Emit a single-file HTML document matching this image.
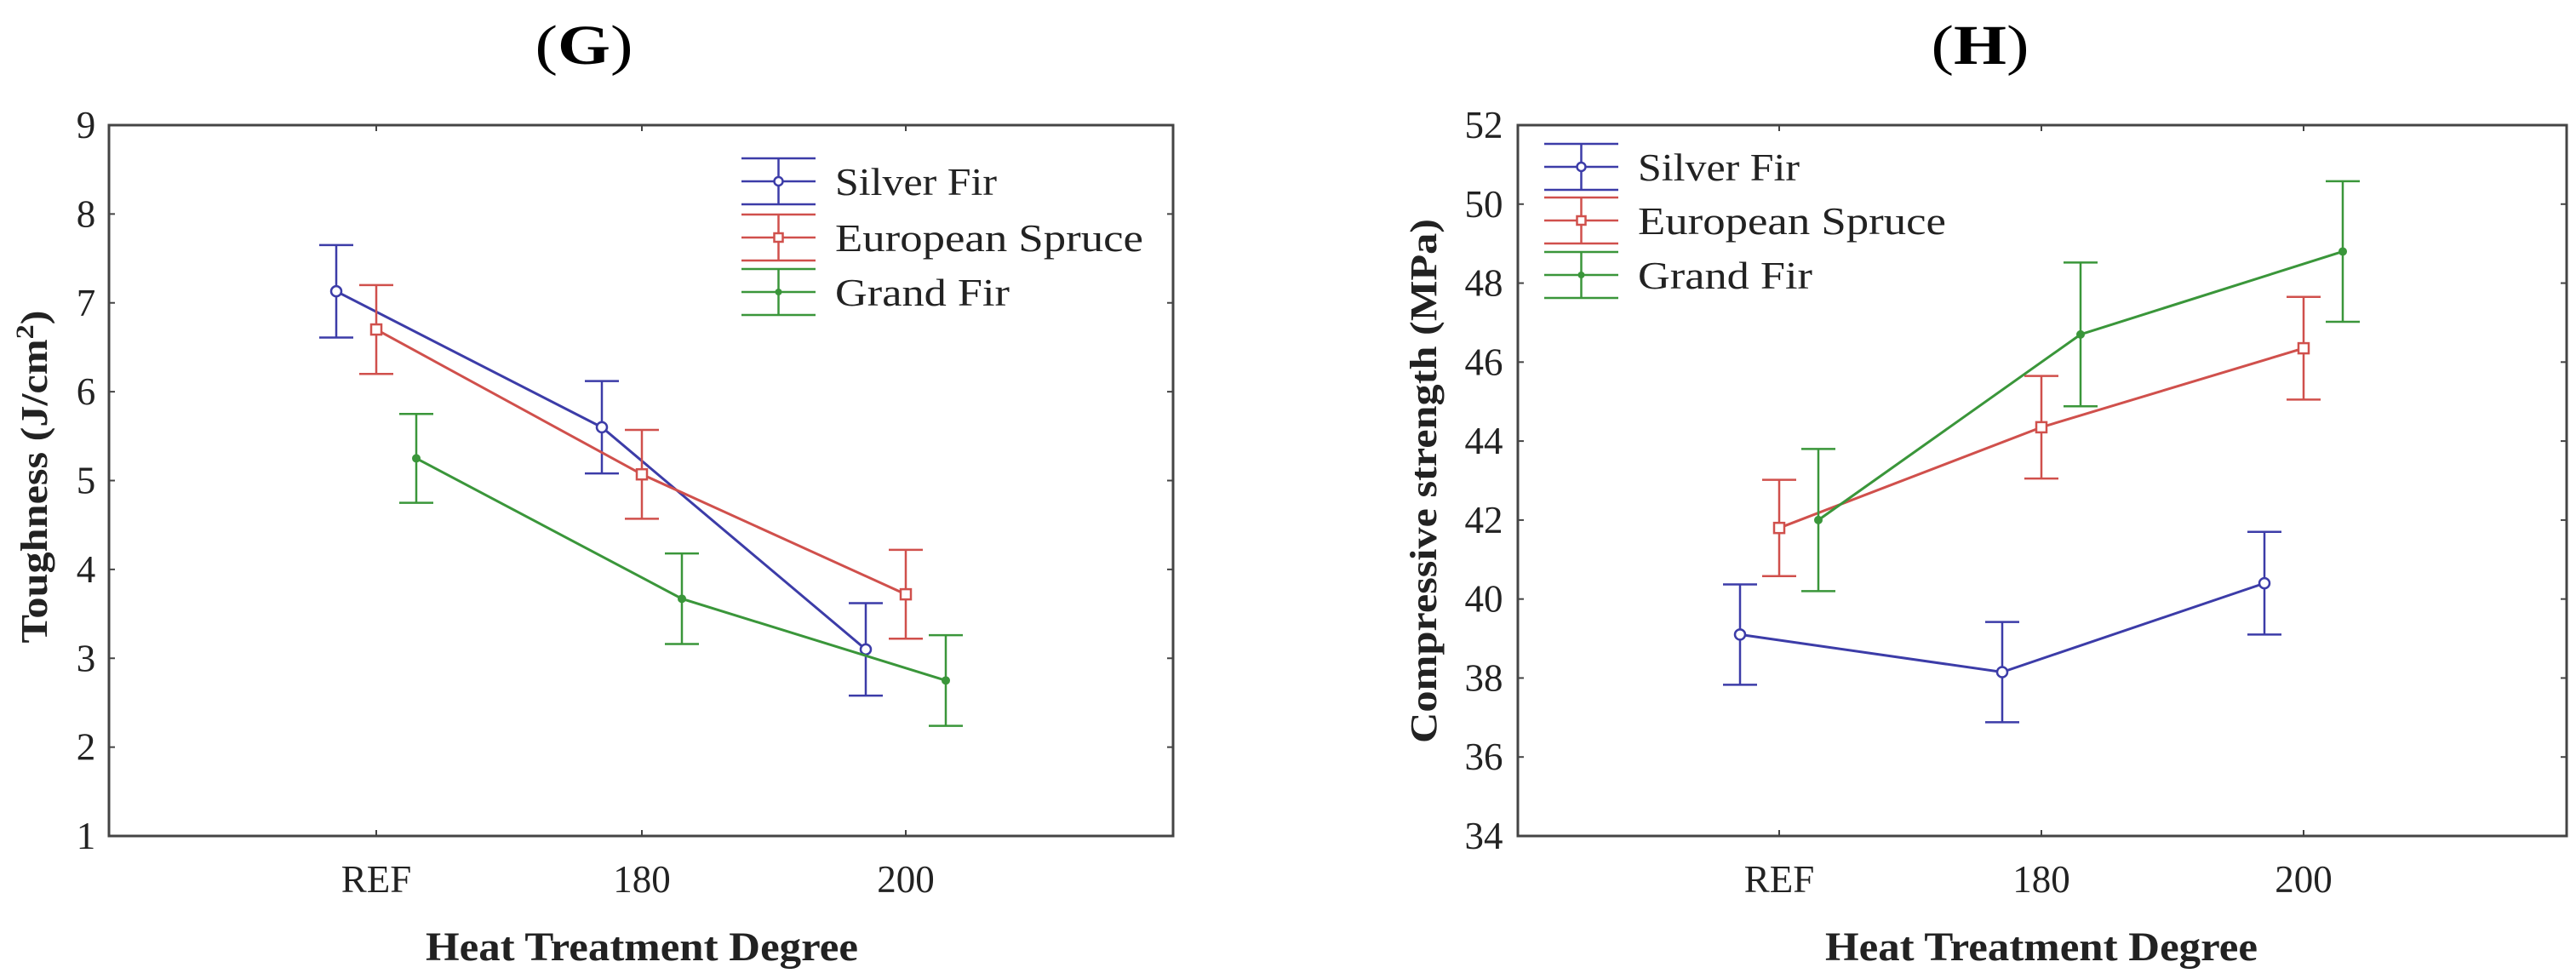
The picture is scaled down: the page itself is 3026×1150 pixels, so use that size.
<!DOCTYPE html>
<html><head><meta charset="utf-8"><style>
html,body{margin:0;padding:0;background:#fff;overflow:hidden;}
svg{display:block;font-family:"Liberation Serif",serif;}
</style></head><body>
<svg id="fig" width="3026" height="1150" viewBox="0 0 3026 1150" xmlns="http://www.w3.org/2000/svg"></svg>
<script>
const categories = ["REF","180","200"];
const seriesNames = ["Silver Fir","European Spruce","Grand Fir"];
// Chart G: toughness
const gSilver = [7.13,5.6,3.1];
const gSilverErr = [0.52,0.52,0.52];
const gSpruce = [6.7,5.07,3.72];
const gSpruceErr = [0.5,0.5,0.5];
const gGrand = [5.25,3.67,2.75];
const gGrandErr = [0.5,0.51,0.51];
const gTicks = [1,2,3,4,5,6,7,8,9];
// Chart H: compressive strength
const hSilver = [39.1,38.15,40.4];
const hSilverErr = [1.27,1.27,1.3];
const hSpruce = [41.8,44.35,46.35];
const hSpruceErr = [1.22,1.3,1.3];
const hGrand = [42.0,46.7,48.8];
const hGrandErr = [1.8,1.82,1.78];
const hTicks = [34,36,38,40,42,44,46,48,50,52];

const NS="http://www.w3.org/2000/svg";
const svg=document.getElementById('fig');
function mk(tag,attrs,parent){const e=document.createElementNS(NS,tag);for(const k in attrs)e.setAttribute(k,attrs[k]);(parent||svg).appendChild(e);return e;}
const colors=["#3c3ca8","#d0504c","#3a963a"];
const legendWidths=[190,362,205];

function chart(cfg){
  const g=mk('g',{});
  
  
  const {x0,x1,y0,y1,ymin,ymax,catX,off}=cfg;
  const ys=v=>y1-(v-ymin)/(ymax-ymin)*(y1-y0);
  const xs=(i,s)=>catX[i]+(s-1)*off;
  const frame=mk('rect',{x:x0,y:y0,width:x1-x0,height:y1-y0,fill:'none',stroke:'#444',"stroke-width":3},g);
  
  
  cfg.ticks.forEach(t=>{
    const y=ys(t);
    mk('line',{x1:x0,x2:x0+7,y1:y,y2:y,stroke:'#444',"stroke-width":2},g);
    mk('line',{x1:x1,x2:x1-7,y1:y,y2:y,stroke:'#444',"stroke-width":2},g);
    const tx=mk('text',{x:cfg.tickX,y:y+15,"font-size":45,"text-anchor":"middle",fill:'#222'},g);
    tx.textContent=t;
    
    
  });
  categories.forEach((c,i)=>{
    mk('line',{x1:catX[i],x2:catX[i],y1:y1,y2:y1-7,stroke:'#444',"stroke-width":2},g);
    mk('line',{x1:catX[i],x2:catX[i],y1:y0,y2:y0+7,stroke:'#444',"stroke-width":2},g);
    const tx=mk('text',{x:catX[i],y:1048,"font-size":45,"text-anchor":"middle",fill:'#222'},g);
    tx.textContent=c;
    
    
  });
  const xt=mk('text',{x:catX[1],y:1128,"font-size":48,"font-weight":"bold","text-anchor":"middle",fill:'#222',textLength:508,lengthAdjust:"spacingAndGlyphs"},g);
  xt.textContent="Heat Treatment Degree";
  
  
  const yt=mk('text',{x:0,y:0,"font-size":44,"font-weight":"bold","text-anchor":"middle",fill:'#222',textLength:cfg.ytLen,lengthAdjust:"spacingAndGlyphs",transform:`translate(${cfg.ytX},${cfg.ytY}) rotate(-90)`},g);
  yt.innerHTML=cfg.ytitle;
  
  
  const tt=mk('text',{x:cfg.titleX,y:75,"font-size":66,"text-anchor":"middle",fill:'#000',textLength:115,lengthAdjust:"spacingAndGlyphs"},g);
  tt.innerHTML='(<tspan font-weight="bold">'+cfg.letter+'</tspan>)';
  
  
  cfg.series.forEach((s,si)=>{
    const col=colors[si];
    const pts=s.vals.map((v,i)=>xs(i,si)+','+ys(v)).join(' ');
    const pl=mk('polyline',{points:pts,fill:'none',stroke:col,"stroke-width":3},g);
    
    
    s.vals.forEach((v,i)=>{
      const x=xs(i,si),e=s.err[i];
      mk('line',{x1:x,x2:x,y1:ys(v+e),y2:ys(v-e),stroke:col,"stroke-width":2.5},g);
      mk('line',{x1:x-20,x2:x+20,y1:ys(v+e),y2:ys(v+e),stroke:col,"stroke-width":2.5},g);
      mk('line',{x1:x-20,x2:x+20,y1:ys(v-e),y2:ys(v-e),stroke:col,"stroke-width":2.5},g);
      let m;
      if(si==0)m=mk('circle',{cx:x,cy:ys(v),r:6,fill:'#fff',stroke:col,"stroke-width":2.5},g);
      else if(si==1)m=mk('rect',{x:x-6,y:ys(v)-6,width:12,height:12,fill:'#fff',stroke:col,"stroke-width":2.5},g);
      else m=mk('circle',{cx:x,cy:ys(v),r:5,fill:col},g);
      
      
    });
  });
  const lg=mk('g',{},g);
  
  
  seriesNames.forEach((n,si)=>{
    const col=colors[si],L=cfg.leg,cy=L.y[si],lx=L.x,lw=87;
    mk('line',{x1:lx,x2:lx+lw,y1:cy,y2:cy,stroke:col,"stroke-width":2.5},lg);
    mk('line',{x1:lx,x2:lx+lw,y1:cy-27,y2:cy-27,stroke:col,"stroke-width":2.5},lg);
    mk('line',{x1:lx,x2:lx+lw,y1:cy+27,y2:cy+27,stroke:col,"stroke-width":2.5},lg);
    mk('line',{x1:lx+lw/2,x2:lx+lw/2,y1:cy-27,y2:cy+27,stroke:col,"stroke-width":2.5},lg);
    if(si==0)mk('circle',{cx:lx+lw/2,cy:cy,r:5,fill:'#fff',stroke:col,"stroke-width":2.5},lg);
    else if(si==1)mk('rect',{x:lx+lw/2-5,y:cy-5,width:10,height:10,fill:'#fff',stroke:col,"stroke-width":2.5},lg);
    else mk('circle',{cx:lx+lw/2,cy:cy,r:4,fill:col},lg);
    const t=mk('text',{x:lx+lw+23,y:cy+16,"font-size":45,fill:'#222',textLength:legendWidths[si],lengthAdjust:"spacingAndGlyphs"},lg);
    t.textContent=n;
    
    
  });
}
chart({name:'toughness-chart',letter:'G',titleX:686,x0:128,x1:1378,y0:147,y1:982,ymin:1,ymax:9,ticks:gTicks,tickX:101,
  catX:[442,754,1064],off:47,ytX:55,ytY:560,ytLen:391,ytitle:'Toughness (J/cm<tspan baseline-shift="super" font-size="30">2</tspan>)',
  series:[{vals:gSilver,err:gSilverErr},{vals:gSpruce,err:gSpruceErr},{vals:gGrand,err:gGrandErr}],
  leg:{x:871,y:[213,279,343]}});
chart({name:'compressive-strength-chart',letter:'H',titleX:2326,x0:1783,x1:3015,y0:147,y1:982,ymin:34,ymax:52,ticks:hTicks,tickX:1743,
  catX:[2090,2398,2706],off:46,ytX:1687,ytY:565,ytLen:616,ytitle:'Compressive strength (MPa)',
  series:[{vals:hSilver,err:hSilverErr},{vals:hSpruce,err:hSpruceErr},{vals:hGrand,err:hGrandErr}],
  leg:{x:1814,y:[196,259,323]}});
</script>
</body></html>
